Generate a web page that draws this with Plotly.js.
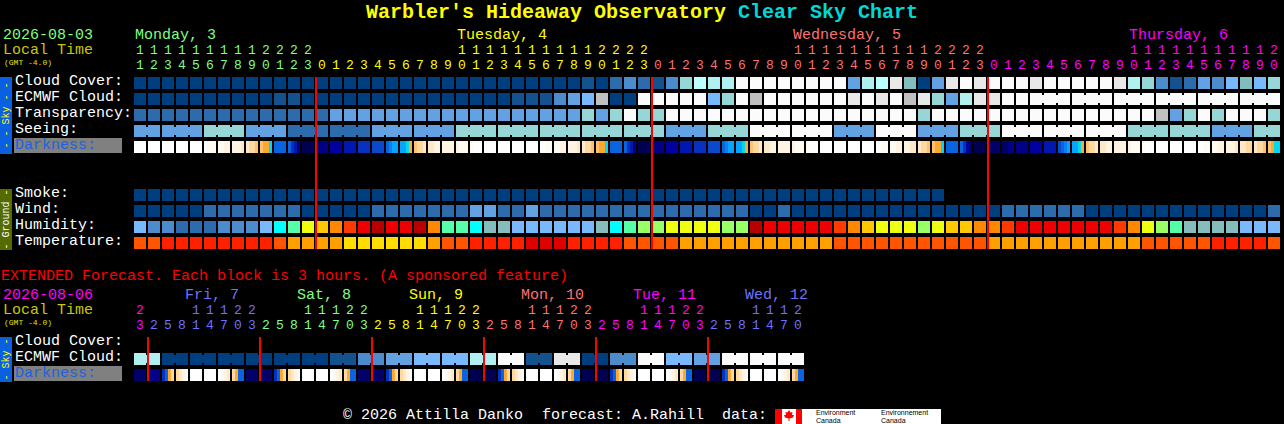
<!DOCTYPE html>
<html><head><meta charset="utf-8">
<script src="https://cdn.plot.ly/plotly-3.0.1.min.js"></script>
<style>html,body{margin:0;padding:0;background:#000;overflow:hidden}#c{width:1284px;height:424px}</style>
</head><body><div id="c"></div>
<script>
// ---------- Values ----------
const mainHours = [11,12,13,14,15,16,17,18,19,20,21,22,23,
  0,1,2,3,4,5,6,7,8,9,10,11,12,13,14,15,16,17,18,19,20,21,22,23,
  0,1,2,3,4,5,6,7,8,9,10,11,12,13,14,15,16,17,18,19,20,21,22,23,
  0,1,2,3,4,5,6,7,8,9,10,11,12,13,14,15,16,17,18,19,20];
const extHours = [23,2,5,8,11,14,17,20,23,2,5,8,11,14,17,20,23,2,5,8,11,14,17,20,23,
  2,5,8,11,14,17,20,23,2,5,8,11,14,17,20,23,2,5,8,11,14,17,20];

const cloudCover = [
 0,0,0,0,0,0,0,0,0,0, 0,0,0,0,0,0,0,0,0,0, 0,0,0,0,0,0,0,0,0,0,
 0,0,1,0,2,3,2,1,3,6, 12,7,7,10,10,10,10,10,10,10, 10,4,7,12,9,11,0,4,9,10,
 9,10,10,10,9,10,10,10,10,10, 9,7,6,3,1,2,4,3,5,11, 5,6];
const ecmwfCloud = [
 0,0,0,0,0,0,0,0,0,0, 1,1,0,0,0,0,0,0,0,0, 0,0,0,0,0,0,0,1,1,1,
 3,4,5,8,0,0,10,10,10,10, 10,5,6,10,8,10,10,10,10,10, 10,9,10,9,10,8,9,6,4,7,
 9,9,10,10,10,10,10,10,10,10, 10,10,10,10,10,10,10,10,10,10, 10,10];
const transparency = [
 2,2,2,2,2,2,2,2,2,2, 2,2,2,2,4,4,4,4,4,4, 4,4,4,4,4,4,4,4,4,4,
 4,4,6,4,6,10,6,6,10,10, 10,10,10,10,10,10,10,10,10,10, 10,10,10,10,10,10,6,10,10,10,
 10,10,10,10,10,10,10,10,10,10, 10,10,10,8,4,6,10,6,10,10, 10,6];
const seeing = [
 4,4,4,4,4,6,6,6,4,4, 4,2,2,2,2,2,2,4,4,4, 4,4,4,6,6,6,6,6,6,6,
 6,6,6,6,6,6,6,6,4,4, 4,6,6,6,10,10,10,10,10,10, 4,4,4,10,10,10,4,4,4,6,
 6,6,10,10,10,10,10,10,10,10, 10,6,6,6,6,6,6,4,4,4, 6,6];
const darkness = [
 [0,0,0,0],[0,0,0,0],[0,0,0,0],[0,0,0,0],[0,0,0,0],[0,1,1,1],[1,1,2,2],[2,2,2,3],[3,4,4,5],[5,6,6,7],
 [10,10,10,10],[10,12,13,15],[17,17,17,16],[16,15,15,15],[14,14,14,14],[13,13,13,13],[12,12,12,12],[11,11,11,11],[10,9,8,8],[8,8,7,6],
 [5,4,4,3],[3,3,2,2],[2,2,2,2],[2,1,1,1],[1,0,0,0],[0,0,0,0],[0,0,0,0],[0,0,0,0],[0,0,0,0],[0,0,1,1],
 [1,1,2,2],[2,2,2,3],[3,4,4,5],[5,6,6,7],[10,10,10,10],[10,12,13,15],[17,17,17,16],[16,15,15,15],[14,14,14,14],[13,13,13,13],
 [12,12,12,12],[11,11,11,11],[10,9,8,8],[8,8,7,6],[5,4,4,3],[3,3,2,2],[2,2,2,2],[2,1,1,1],[1,0,0,0],[0,0,0,0],
 [0,0,0,0],[0,0,0,0],[0,0,0,0],[0,0,1,1],[1,1,2,2],[2,2,3,3],[3,4,4,5],[5,6,6,7],[10,10,10,10],[10,12,14,16],
 [17,17,17,17],[16,16,16,16],[16,16,15,15],[15,15,15,15],[14,14,14,14],[13,13,13,13],[11,10,9,8],[8,8,7,6],[5,4,4,3],[3,3,2,2],
 [2,2,2,2],[2,1,1,1],[1,0,0,0],[0,0,0,0],[0,0,0,0],[0,0,0,0],[0,0,1,1],[1,1,2,2],[2,2,2,3],[3,3,4,4],
 [3,4,4,5],[5,6,7,7]];
const smoke = [
 0,0,0,0,0,0,0,0,0,0, 0,0,0,0,0,0,0,0,0,0, 0,0,0,0,0,0,0,0,0,0,
 0,0,0,0,0,0,0,0,0,0, 0,0,0,0,0,0,0,0,0,0, 0,0,0,0,0,0,0,0];
const wind = [
 0,0,0,0,0,2,2,2,2,2, 2,2,0,0,0,0,0,2,2,2, 2,2,2,2,4,4,2,2,4,2,
 2,2,2,2,2,2,2,2,2,2, 2,2,2,2,0,0,2,0,0,0, 0,0,0,0,0,0,0,0,0,0,
 0,0,2,2,2,2,2,2,0,0, 0,0,0,0,0,0,0,0,0,0, 0,2];
const humidity = [
 0,1,1,2,2,2,1,1,1,0, 4,5,7,8,9,10,11,12,11,11, 12,9,5,5,4,3,3,0,0,0,
 0,0,0,3,4,5,6,6,7,7, 7,7,6,6,12,11,11,11,11,11, 10,9,8,7,7,7,6,7,8,8,
 9,9,10,11,11,11,11,11,11,11, 10,9,7,6,5,3,3,3,3,0, 0,0];
const temperature = [
 2,2,1,1,1,1,1,1,1,1, 2,3,3,3,3,4,4,4,4,4, 4,3,2,2,1,1,1,1,0,0,
 0,1,1,1,1,2,2,2,2,3, 3,3,3,3,3,3,3,3,3,3, 2,2,2,2,2,2,2,2,2,2,
 2,3,3,3,3,3,3,3,3,3, 3,3,2,2,2,2,2,1,1,1, 1,2];

const extEcmwf = [7,7,0,0,0,0,0,0,0,0,0,0,0,0,1,1,3,3,4,4,5,5,5,5,
 7,7,10,10,1,1,9,9,0,0,3,3,10,10,5,5,4,4,10,10,10,10,10,10];
const extDarkness = [
 [16,16,16,16],[15,15,15,15],[12,10,6,4],[4,3,2,1],[0,0,0,0],[0,0,0,0],[0,1,2,3],[4,6,10,10],
 [16,16,16,16],[16,16,16,16],[12,10,6,4],[4,3,2,1],[0,0,0,0],[0,0,0,0],[0,1,2,3],[4,6,10,10],
 [16,16,16,16],[16,16,16,16],[12,10,6,4],[4,3,2,1],[0,0,0,0],[0,0,0,0],[0,1,2,3],[4,6,10,10],
 [17,17,17,17],[17,17,17,17],[12,10,6,4],[4,3,2,1],[0,0,0,0],[0,0,0,0],[0,1,2,3],[4,6,10,10],
 [17,17,17,17],[17,17,17,17],[12,10,6,4],[4,3,2,1],[0,0,0,0],[0,0,0,0],[0,1,2,3],[4,6,10,10],
 [17,17,17,17],[17,17,17,17],[12,10,6,4],[4,3,2,1],[0,0,0,0],[0,0,0,0],[0,1,2,3],[4,6,10,10]];

const mainMidnights = [13,37,61];
const extMidnights = [1,9,17,25,33,41];
const mainDayStarts = [{label:'Monday, 3',i:0},{label:'Tuesday, 4',i:23},{label:'Wednesday, 5',i:47},{label:'Thursday, 6',i:71}];
const extDays = [{label:'Fri, 7',i:3.64},{label:'Sat, 8',i:11.64},{label:'Sun, 9',i:19.64},{label:'Mon, 10',i:27.64},{label:'Tue, 11',i:35.64},{label:'Wed, 12',i:43.64}];
const rowNames = ['Cloud Cover:','ECMWF Cloud:','Transparency:','Seeing:'];
const groundNames = ['Smoke:','Wind:','Humidity:','Temperature:'];

// ---------- Styles ----------
const cloudColors = ['#003F7F','#14528F','#2C6CAC','#4C8CCC','#62A2E2','#78B8FC','#96D6D6','#B0F0F0','#C0C0C0','#E8E8E8','#FBFBFB','#82BEBE','#BBFFFF'];
const humidityColors = ['#78B8FC','#4C8CCC','#2C6CAC','#85BDBD','#00FFFF','#55FFAA','#99FF66','#EEFF10','#FFC800','#FF8800','#FF3A00','#EE0000','#B80000'];
const temperatureColors = ['#E00000','#FF2000','#FF5500','#FFA000','#FFDD00'];
const darkColors = ['#FFFFFF','#FFFAF2','#FFF3E2','#FFE8C8','#FFD8A0','#FFC070','#FFA830','#00D8F0','#0AA4FF','#0A80F8','#0A64E0','#0A48CC','#0A30C0','#0018B0','#0000A0','#000088','#000068','#000050'];
const GREEN='#80FF80',YEL='#FFFF00',PINK='#FF7070',MAG='#FF00FF',BLU='#7070FF',OLIVE='#C8C800';
const MONO='"Liberation Mono", monospace';

// ---------- Scales: x in hour blocks, y in rows ----------
const X = px => (px-140)/14;
const Y = py => (py-83)/16;
const traces = [], annotations = [], shapes = [];

function cells(vals, yPx, colors){
  traces.push({type:'bar',x:vals.map((_,i)=>i),y:vals.map(()=>12/16),base:vals.map(()=>Y(yPx)-6/16),
    width:12/14,marker:{color:vals.map(v=>colors[v]),line:{width:0}},hoverinfo:'skip',showlegend:false});
}
function bridges(vals, yPx, colors, first, size, from){
  const xs=[],cs=[];
  vals.forEach((v,i)=>{
    if(i>=from && i+1<vals.length && vals[i+1]===v && ((i+1-first)%size!==0)){xs.push(i+0.5);cs.push(colors[v]);}
  });
  traces.push({type:'bar',x:xs,y:xs.map(()=>8/16),base:xs.map(()=>Y(yPx)-4/16),width:2/14,
    marker:{color:cs,line:{width:0}},hoverinfo:'skip',showlegend:false});
}
function dark(vals, yPx){
  const xs=[],cs=[];
  vals.forEach((c,i)=>c.forEach((v,k)=>{xs.push(i+(k-1.5)*3/14);cs.push(darkColors[v]);}));
  traces.push({type:'bar',x:xs,y:xs.map(()=>12/16),base:xs.map(()=>Y(yPx)-6/16),width:3/14,
    marker:{color:cs,line:{width:0}},hoverinfo:'skip',showlegend:false});
}
function redLines(mids, y0, y1){
  const xs=[],ys=[];
  mids.forEach(m=>{xs.push(m-3/7,m-3/7,null);ys.push(Y(y0),Y(y1),null);});
  traces.push({type:'scatter',mode:'lines',x:xs,y:ys,line:{color:'#FF0000',width:2},hoverinfo:'skip',showlegend:false});
}
function hourText(hours, colorAt, yTens, yOnes){
  const xs=hours.map((_,i)=>i);
  traces.push({type:'scatter',mode:'text',x:xs,y:hours.map(()=>Y(yTens)),
    text:hours.map(h=>h>=10?String(Math.floor(h/10)):''),textposition:'middle center',
    textfont:{family:MONO,size:13,color:hours.map((_,i)=>colorAt(i))},hoverinfo:'skip',showlegend:false});
  traces.push({type:'scatter',mode:'text',x:xs,y:hours.map(()=>Y(yOnes)),
    text:hours.map(h=>String(h%10)),textposition:'middle center',
    textfont:{family:MONO,size:13,color:hours.map((_,i)=>colorAt(i))},hoverinfo:'skip',showlegend:false});
}
function T(text,px,py,color,size,o){
  annotations.push(Object.assign({text:text,xref:'x',yref:'y',x:X(px),y:Y(py),xanchor:'left',yanchor:'middle',
    showarrow:false,borderpad:0,font:{family:MONO,size:size||14,color:color}},o||{}));
}
function Tw(text,px,py,color){ // 15px gives an advance of 9px per char
  T(text,px,py,color,15);
}
function R(x0,y0,x1,y1,color,layer){
  shapes.push({type:'rect',xref:'x',yref:'y',x0:X(x0),x1:X(x1),y0:Y(y0),y1:Y(y1),fillcolor:color,line:{width:0},layer:layer||'below'});
}

// ---------- Main grid ----------
cells(cloudCover,83,cloudColors);
cells(ecmwfCloud,99,cloudColors); bridges(ecmwfCloud,99,cloudColors,64,3,64);
cells(transparency,115,cloudColors);
cells(seeing,131,cloudColors); bridges(seeing,131,cloudColors,2,3,0);
dark(darkness,147);
cells(smoke,195,cloudColors);
cells(wind,211,cloudColors);
cells(humidity,227,humidityColors);
cells(temperature,243,temperatureColors);
redLines(mainMidnights,77,249);
hourText(mainHours,i=>i<13?GREEN:i<37?YEL:i<61?PINK:MAG,51,66);

// ---------- Extended grid ----------
cells(extEcmwf,359,cloudColors); bridges(extEcmwf,359,cloudColors,0,2,0);
dark(extDarkness,375);
redLines(extMidnights,337,381);
const extCols=[MAG,BLU,GREEN,YEL,PINK,MAG,BLU];
hourText(extHours,i=>extCols[Math.ceil(i/8)],311,326);

// ---------- Text ----------
annotations.push({text:"Warbler's Hideaway Observatory <span style=\"color:#00D8D8\">Clear Sky Chart</span>",xref:'x',yref:'y',x:X(642),y:Y(12),
  xanchor:'center',yanchor:'middle',showarrow:false,borderpad:0,font:{family:MONO,size:20,color:'#FFFF00',weight:700}});
Tw('2026-08-03',1.5,35,GREEN);
Tw('Local Time',1.5,50,OLIVE);
T('(GMT -4.0)',3,62,'#E0E000',8);
mainDayStarts.forEach((d,k)=>Tw(d.label,134+14*d.i,35,[GREEN,YEL,PINK,MAG][k]));
rowNames.forEach((n,k)=>Tw(n,13.5,81.5+16*k,'#FFFFFF'));
R(14,138,122,153,'#808080');
Tw('Darkness:',13.5,145.5,'#2060E0');
groundNames.forEach((n,k)=>Tw(n,13.5,193.5+16*k,'#FFFFFF'));
Tw('EXTENDED Forecast. Each block is 3 hours. (A sponsored feature)',0,276,'#FF0000');
Tw('2026-08-06',1.5,295,MAG);
Tw('Local Time',1.5,310,OLIVE);
T('(GMT -4.0)',3,322,'#E0E000',8);
extDays.forEach((d,k)=>Tw(d.label,133.5+14*d.i,295,[BLU,GREEN,YEL,PINK,MAG,BLU][k]));
Tw('Cloud Cover:',13.5,341.5,'#FFFFFF');
Tw('ECMWF Cloud:',13.5,357.5,'#FFFFFF');
R(14,366,122,381,'#808080');
Tw('Darkness:',13.5,373.5,'#2060E0');

// side bars
R(0,77,12,154,'#0A60E0');
R(0,189,12,250,'#556B00');
R(0,337,12,382,'#0A60E0');
T('- - Sky - -',6,115.5,'#FFFF00',10,{textangle:-90,xanchor:'center'});
T('- Ground -',6,219.5,'#FFFFFF',10,{textangle:-90,xanchor:'center'});
T('- Sky -',6,359.5,'#FFFF00',10,{textangle:-90,xanchor:'center'});

// footer
Tw('\u00A9 2026 Attilla Danko',341.5,415.5,'#FFFFFF');
Tw('forecast: A.Rahill',540.5,415.5,'#FFFFFF');
Tw('data:',720.5,415.5,'#FFFFFF');
R(775,409,941,424,'#FFFFFF');
R(775,409,782,424,'#FF0000');
R(796,409,802,424,'#FF0000');
const leaf=[[789,410],[790.5,412.5],[792.5,412],[792,415],[794,415],[793,417.5],[789.5,418.5],[789.5,421],[788.5,421],[788.5,418.5],[785,417.5],[784,415],[786,415],[785.5,412],[787.5,412.5]];
shapes.push({type:'path',xref:'x',yref:'y',path:'M'+leaf.map(p=>X(p[0])+','+Y(p[1])).join('L')+'Z',fillcolor:'#FF0000',line:{width:0},layer:'below'});
const logoFont={family:'"Liberation Sans", sans-serif',size:7,color:'#000'};
[['Environment',815],['Environnement',880]].forEach(a=>T(a[0],a[1],412.5,'#000',7,{font:logoFont}));
[['Canada',815],['Canada',880]].forEach(a=>T(a[0],a[1],420,'#000',7,{font:logoFont}));

Plotly.newPlot('c',traces,{
  width:1284,height:424,margin:{l:0,r:0,t:0,b:0,pad:0},paper_bgcolor:'#000',plot_bgcolor:'#000',
  barmode:'overlay',bargap:0,bargroupgap:0,showlegend:false,hovermode:false,
  xaxis:{range:[X(0),X(1284)],visible:false,fixedrange:true},
  yaxis:{range:[Y(424),Y(0)],visible:false,fixedrange:true},
  annotations:annotations,shapes:shapes
},{staticPlot:true,displayModeBar:false});
</script></body></html>
